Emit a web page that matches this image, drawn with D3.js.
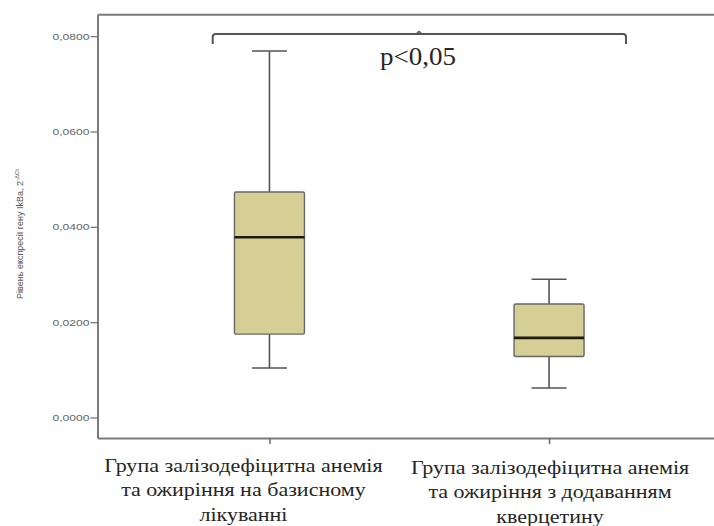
<!DOCTYPE html>
<html>
<head>
<meta charset="utf-8">
<script src="https://cdn.jsdelivr.net/npm/d3@7"></script>
<style>
  html, body { margin: 0; padding: 0; background: #fff; }
  svg { display: block; }
</style>
</head>
<body>
<svg id="chart" width="714" height="526"></svg>
<script>
// Group names (multi-line axis labels)
const categories = ["base", "quercetin"];
const categoryLabels = [
  ["Група залізодефіцитна анемія", "та ожиріння на базисному", "лікуванні"],
  ["Група залізодефіцитна анемія", "та ожиріння з додаванням", "кверцетину"]
];
// Box-plot statistics per group
const whiskerLow  = [0.0104, 0.0062];
const q1          = [0.0175, 0.0128];
const median      = [0.0378, 0.0167];
const q3          = [0.0473, 0.0238];
const whiskerHigh = [0.0769, 0.0290];
// Y tick values
const yTicks = [0, 0.02, 0.04, 0.06, 0.08];

const svg = d3.select("#chart");
const plotLeft = 97.5, plotRight = 721, plotTop = 14.7, plotBottom = 438;

const y = d3.scaleLinear().domain([-0.0043, 0.0845]).range([plotBottom, plotTop]);
const x = d3.scalePoint().domain(categories).range([plotLeft, plotRight]).padding(0.615);

const axisColor = "#7a7a7a";
const fmt = v => d3.format(".4f")(v).replace(".", ",");

// Frame (top and right edges; right edge lies past the window)
svg.append("path")
  .attr("d", `M${plotLeft},${plotTop}H${plotRight}V${plotBottom}`)
  .attr("fill", "none").attr("stroke", axisColor).attr("stroke-width", 2);

// Y axis
const yAxis = svg.append("g")
  .attr("transform", `translate(${plotLeft},0)`)
  .call(d3.axisLeft(y).tickValues(yTicks).tickFormat(fmt).tickSize(7).tickSizeOuter(0));
yAxis.select(".domain").attr("stroke", axisColor).attr("stroke-width", 2);
yAxis.selectAll(".tick line").attr("stroke", axisColor).attr("stroke-width", 1.3);
yAxis.selectAll(".tick text")
  .attr("fill", "#666").attr("font-family", "Arial, 'Liberation Sans', sans-serif")
  .attr("font-size", 9).attr("x", -8)
  .attr("textLength", 37).attr("lengthAdjust", "spacingAndGlyphs");

// X axis
const xAxis = svg.append("g")
  .attr("transform", `translate(0,${plotBottom})`)
  .call(d3.axisBottom(x).tickSize(6).tickSizeOuter(0).tickFormat(""));
xAxis.select(".domain").attr("stroke", axisColor).attr("stroke-width", 2);
xAxis.selectAll(".tick line").attr("stroke", "#666").attr("stroke-width", 1.5);

// Category labels (serif, slightly widened); the first block sits a bit left of its tick
const labelBase = [472, 474];
const labelShift = [-26, 1];
categories.forEach((c, i) => {
  const t = svg.append("text")
    .attr("transform", `translate(${x(c) + labelShift[i]},0) scale(1.13,1)`)
    .attr("text-anchor", "middle")
    .attr("font-family", "'Liberation Serif', 'Times New Roman', serif")
    .attr("font-size", 19.5).attr("fill", "#262626");
  categoryLabels[i].forEach((line, j) => {
    t.append("tspan").attr("x", 0).attr("y", labelBase[i] + j * 24.3).text(line);
  });
});

// Y axis title
const yt = svg.append("text")
  .attr("transform", `translate(23,234) rotate(-90)`)
  .attr("text-anchor", "middle")
  .attr("font-family", "Arial, 'Liberation Sans', sans-serif")
  .attr("font-size", 9).attr("fill", "#555");
yt.append("tspan").text("Рівень експресії гену IkBa, 2");
yt.append("tspan").attr("font-size", 6).attr("dy", -4).text("-ΔCt");

// Box plots
const boxW = 70, capW = 35;
const boxes = svg.append("g").selectAll("g").data(categories).join("g");
boxes.append("line")
  .attr("x1", c => x(c)).attr("x2", c => x(c))
  .attr("y1", (c, i) => y(whiskerHigh[i])).attr("y2", (c, i) => y(q3[i]))
  .attr("stroke", "#555").attr("stroke-width", 1.6);
boxes.append("line")
  .attr("x1", c => x(c)).attr("x2", c => x(c))
  .attr("y1", (c, i) => y(q1[i])).attr("y2", (c, i) => y(whiskerLow[i]))
  .attr("stroke", "#555").attr("stroke-width", 1.6);
[whiskerHigh, whiskerLow].forEach(arr => {
  boxes.append("line")
    .attr("x1", c => x(c) - capW / 2).attr("x2", c => x(c) + capW / 2)
    .attr("y1", (c, i) => y(arr[i])).attr("y2", (c, i) => y(arr[i]))
    .attr("stroke", "#555").attr("stroke-width", 1.6);
});
boxes.append("rect")
  .attr("x", c => x(c) - boxW / 2).attr("width", boxW)
  .attr("y", (c, i) => y(q3[i])).attr("height", (c, i) => y(q1[i]) - y(q3[i]))
  .attr("rx", 1.5)
  .attr("fill", "#d5cf96").attr("stroke", "#666").attr("stroke-width", 1.4);
boxes.append("line")
  .attr("x1", c => x(c) - boxW / 2).attr("x2", c => x(c) + boxW / 2)
  .attr("y1", (c, i) => y(median[i])).attr("y2", (c, i) => y(median[i]))
  .attr("stroke", "#1e1a0c").attr("stroke-width", 2.6);

// Significance bracket
const bx1 = 212.7, bx2 = 626, by = 34, bEnd = 44, bMid = 419;
svg.append("path")
  .attr("d", `M${bx1},${bEnd} V${by + 3} Q${bx1},${by} ${bx1 + 3},${by} H${bx2 - 3} Q${bx2},${by} ${bx2},${by + 3} V${bEnd}`)
  .attr("fill", "none").attr("stroke", "#555").attr("stroke-width", 2);
svg.append("path")
  .attr("d", `M${bMid - 3},${by} L${bMid},${by - 2.5} L${bMid + 3},${by}`)
  .attr("fill", "none").attr("stroke", "#555").attr("stroke-width", 1.4);
svg.append("text")
  .attr("transform", "translate(418,65) scale(1.08,1)")
  .attr("text-anchor", "middle")
  .attr("font-family", "'Liberation Serif', 'Times New Roman', serif")
  .attr("font-size", 25).attr("fill", "#262626")
  .text("p<0,05");
</script>
</body>
</html>
